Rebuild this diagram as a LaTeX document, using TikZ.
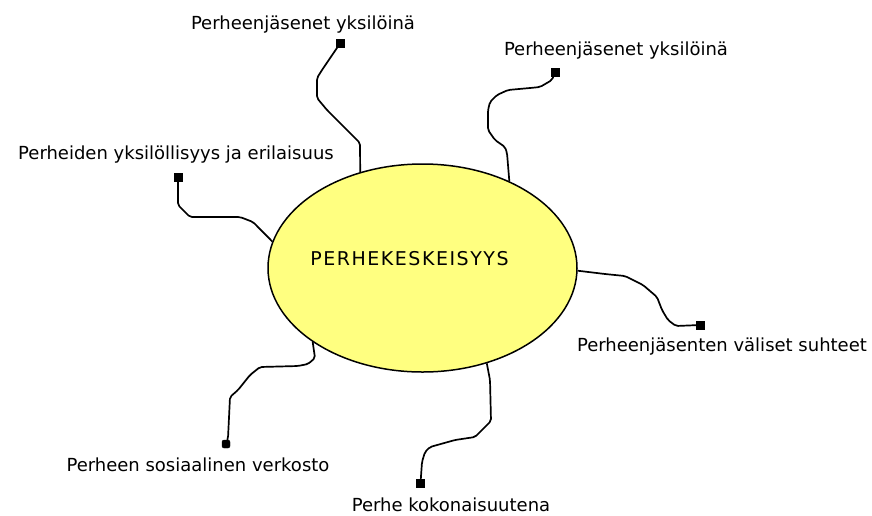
\documentclass[tikz,border=0pt]{standalone}
\usepackage{fontspec}
\setmainfont{DejaVu Sans}
\usetikzlibrary{shapes.geometric}
\definecolor{ellfill}{RGB}{255,255,128}
\tikzset{
  lbl/.style={inner sep=0pt, font=\fontsize{18}{20}\selectfont},
  endsq/.style={draw, fill=black, minimum size=8pt, inner sep=0pt, rectangle},
  conn/.style={line width=1.7pt, rounded corners=2pt},
}
\begin{document}
\begin{tikzpicture}[x=1pt,y=-1pt]
\useasboundingbox (0,0) rectangle (872,515);
\node[ellipse, draw, line width=1.5pt, fill=ellfill, minimum width=309pt, minimum height=208pt, inner sep=0pt] (c) at (422.5,268) {};
\node[lbl, font=\fontsize{19}{21}\selectfont] (ct) at (409.5,259) {\addfontfeature{LetterSpace=8}PERHEKESKEISYYS};

\node[lbl] (l1) at (303,25) {Perheenjäsenet yksilöinä};
\node[lbl] (l2) at (616,51) {Perheenjäsenet yksilöinä};
\node[lbl] (l3) at (176,155) {Perheiden yksilöllisyys ja erilaisuus};
\node[lbl] (l4) at (722,347) {Perheenjäsenten väliset suhteet};
\node[lbl] (l5) at (198,465) {Perheen sosiaalinen verkosto};
\node[lbl] (l6) at (451,505) {Perhe kokonaisuutena};

\node[endsq] (s1) at (340,43.5) {};
\node[endsq] (s2) at (555,72) {};
\node[endsq] (s3) at (178,177.5) {};
\node[endsq] (s4) at (700,325) {};
\node[endsq, rounded corners=2pt] (s5) at (226,444) {};
\node[endsq] (s6) at (420.5,483.5) {};

\draw[conn] (c.123.3) -- (360,143) -- (327,110) -- (317,98) -- (317,78) -- (322,70) -- (s1);
\draw[conn] (c.45.8) -- (507,153) -- (505,147) -- (495,140) -- (488,130) -- (488,110) -- (490,102) -- (497,95) -- (508,90) -- (530,88) -- (540,87) -- (552,80) -- (s2);
\draw[conn] (c.170.1) -- (253,222) -- (240,217) -- (190,217) -- (178,205) -- (s3);
\draw[conn] (c.-1.9) -- (605,274) -- (625,276) -- (643,285) -- (657,297) -- (662,310) -- (668,320) -- (676,326) -- (s4);
\draw[conn] (c.214.9) -- (315,358) -- (308,364) -- (298,366) -- (260,367) -- (250,375) -- (238,390) -- (230,397) -- (228,438) -- (s5);
\draw[conn] (c.304.2) -- (490,380) -- (491,421) -- (475,437) -- (455,440) -- (430,447) -- (425,452) -- (422,462) -- (s6);
\end{tikzpicture}
\end{document}
